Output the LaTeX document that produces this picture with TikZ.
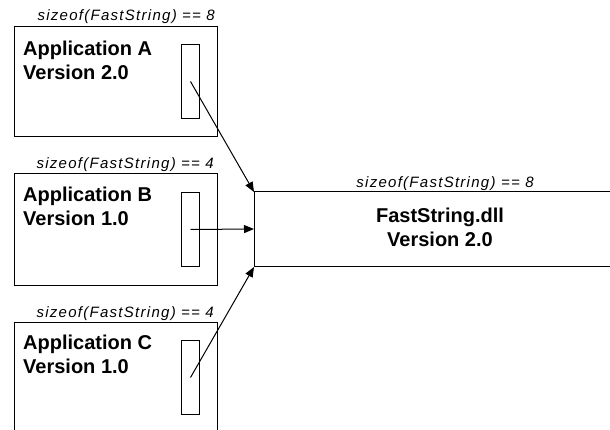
\documentclass[tikz,border=0pt]{standalone}
\usepackage{fontspec}
\setmainfont{Liberation Sans}
\newfontfamily\sizefont[LetterSpace=8.5]{Liberation Sans}
\usetikzlibrary{arrows.meta}

\tikzset{
  frame/.style={draw=black, line width=1pt, fill=white, inner sep=0pt},
  slot/.style={draw=black, line width=1pt, inner sep=0pt,
               minimum width=18pt, minimum height=74pt},
  title/.style={inner sep=0pt, align=left,
                font=\fontsize{20}{23.5}\selectfont\bfseries},
  dlltitle/.style={inner sep=0pt, align=center,
                font=\fontsize{20}{24}\selectfont\bfseries},
  sizelabel/.style={inner sep=0pt, font=\fontsize{15}{17}\selectfont\sizefont\itshape},
  link/.style={line width=1pt, -{Triangle[length=10pt,width=8pt]}},
}

\begin{document}
\begin{tikzpicture}[x=1pt, y=-1pt]
  \useasboundingbox (0,0) rectangle (610,430);

  % application A
  \node[frame, anchor=north west, minimum width=203pt, minimum height=110pt] (appA) at (14,26) {};
  \node[sizelabel, anchor=base east] (szA) at (215,21) {sizeof(FastString) == 8};
  \node[title, anchor=north west] (tA) at (23,41) {Application A\\Version 2.0};
  \node[slot, anchor=north west] (slotA) at (181,44) {};

  % application B
  \node[frame, anchor=north west, minimum width=203pt, minimum height=112pt] (appB) at (14,173) {};
  \node[sizelabel, anchor=base east] (szB) at (214,169) {sizeof(FastString) == 4};
  \node[title, anchor=north west] (tB) at (23,187) {Application B\\Version 1.0};
  \node[slot, anchor=north west] (slotB) at (181,192) {};

  % application C (runs past the lower edge)
  \coordinate (cBL) at (14,440);
  \coordinate (cTL) at (14,322);
  \coordinate (cTR) at (217,322);
  \coordinate (cBR) at (217,440);
  \draw[line width=1pt] (cBL) -- (cTL) -- (cTR) -- (cBR);
  \node[sizelabel, anchor=base east] (szC) at (214,317) {sizeof(FastString) == 4};
  \node[title, anchor=north west] (tC) at (23,335) {Application C\\Version 1.0};
  \node[slot, anchor=north west] (slotC) at (181,340) {};

  % FastString.dll (open towards the right)
  \coordinate (dTR) at (615,192);
  \coordinate (dTL) at (254,192);
  \coordinate (dL) at (254,229);
  \coordinate (dBL) at (254,267);
  \coordinate (dBR) at (615,267);
  \draw[line width=1pt] (dTR) -- (dTL) -- (dBL) -- (dBR);
  \node[sizelabel, anchor=base] (szD) at (445,188) {sizeof(FastString) == 8};
  \node[dlltitle, anchor=north] (tD) at (440,208) {FastString.dll\\Version 2.0};

  % links from each application to the DLL
  \draw[link] (slotA.center) -- (dTL);
  \draw[link] (slotB.center) -- (dL);
  \draw[link] (slotC.center) -- (dBL);
\end{tikzpicture}
\end{document}
